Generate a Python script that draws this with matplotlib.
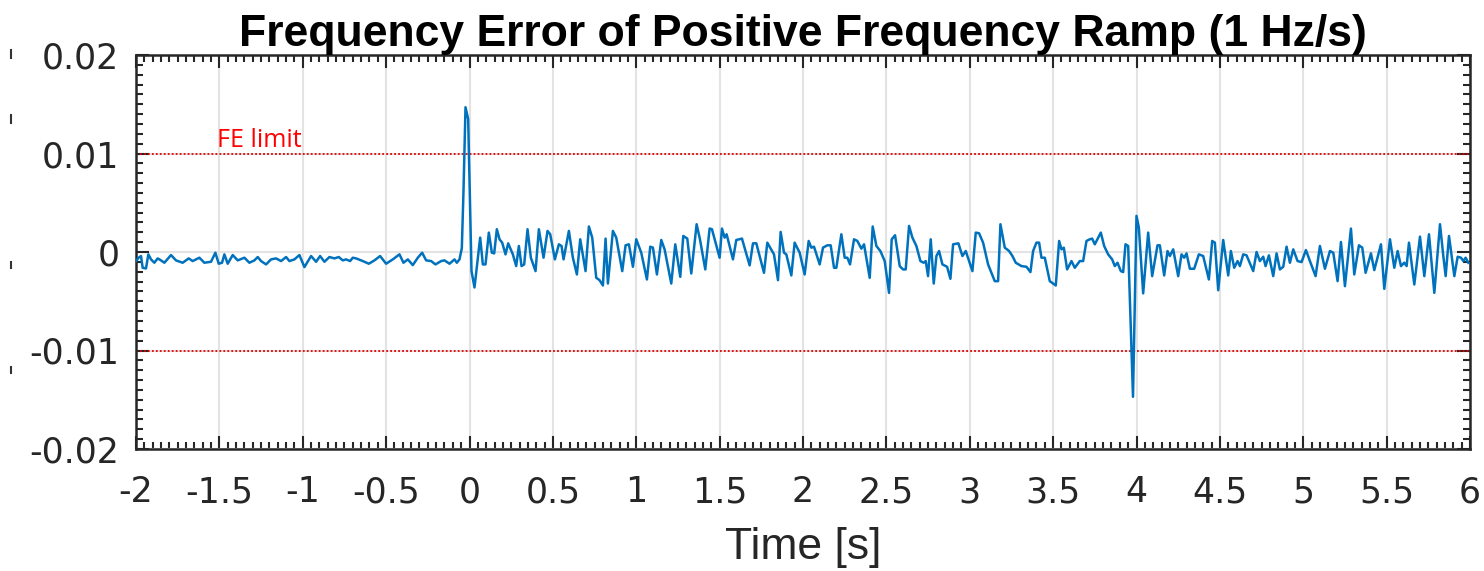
import matplotlib
matplotlib.use('Agg')
import matplotlib.pyplot as plt
from matplotlib.lines import Line2D
from matplotlib.ticker import MultipleLocator

# Frequency error samples, (time [s], FE [mHz])
# before the ramp starts
seg_pre = [
    (-2.0, -0.92), (-1.984, -0.58), (-1.97, -0.41), (-1.96, -1.6), (-1.94, -1.67),
    (-1.926, -0.24), (-1.91, -0.75), (-1.89, -1.09), (-1.87, -0.65), (-1.85, -0.85),
    (-1.83, -1.09), (-1.79, -0.31), (-1.76, -0.85), (-1.72, -1.09), (-1.684, -0.65),
    (-1.66, -0.92), (-1.62, -0.58), (-1.59, -1.09), (-1.55, -0.99), (-1.524, -0.07),
    (-1.504, -1.19), (-1.484, -1.09), (-1.47, -0.24), (-1.45, -1.19), (-1.42, -0.31),
    (-1.39, -0.85), (-1.35, -0.58), (-1.32, -1.09), (-1.29, -0.85), (-1.27, -0.51),
    (-1.25, -0.92), (-1.22, -1.26), (-1.19, -0.75), (-1.16, -0.65), (-1.13, -0.92),
    (-1.1, -0.51), (-1.08, -0.92), (-1.05, -0.75), (-1.02, -0.31), (-0.99, -1.53),
    (-0.95, -0.41), (-0.92, -0.99), (-0.896, -0.41), (-0.87, -0.99), (-0.84, -0.51),
    (-0.81, -0.65), (-0.784, -0.51), (-0.76, -0.85), (-0.74, -0.75), (-0.716, -0.92),
    (-0.7, -0.58), (-0.68, -0.65), (-0.64, -0.92), (-0.604, -1.19), (-0.57, -0.85),
    (-0.536, -0.41), (-0.5, -1.19), (-0.46, -0.75), (-0.42, -0.24), (-0.396, -1.09),
    (-0.37, -0.75), (-0.34, -1.33), (-0.31, -0.58), (-0.284, -0.07), (-0.26, -0.85),
    (-0.23, -0.92), (-0.204, -1.26), (-0.17, -0.92), (-0.15, -0.85), (-0.12, -1.19),
    (-0.09, -0.75), (-0.076, -1.09), (-0.06, -0.75), (-0.046, 0.4), (-0.036, 6.2),
    (-0.024, 14.7), (-0.008, 13.5), (0.012, -1.94), (0.03, -3.6),
]

# 0 s .. 2.4 s
seg_a = [
    (0.064, 1.46), (0.08, -1.26), (0.096, -1.26), (0.116, 1.97), (0.134, -0.07),
    (0.148, -0.14), (0.164, 2.31), (0.18, 1.29), (0.196, 0.95), (0.216, -0.24),
    (0.232, 0.88), (0.26, -0.24), (0.28, -1.43), (0.296, 0.61), (0.312, -1.43),
    (0.328, -1.26), (0.348, 2.31), (0.368, -0.58), (0.396, -1.94), (0.416, 2.31),
    (0.444, -0.58), (0.468, 2.14), (0.484, 1.8), (0.512, -0.75), (0.536, 0.78),
    (0.552, 0.61), (0.564, -0.75), (0.596, 2.14), (0.62, -0.58), (0.644, -2.28),
    (0.664, 1.29), (0.696, -1.94), (0.716, 2.59), (0.736, 1.46), (0.76, -2.62),
    (0.78, -2.86), (0.8, -3.4), (0.816, 1.36), (0.83, -3.2), (0.86, 2.14),
    (0.88, 1.46), (0.916, -1.94), (0.936, 0.68), (0.956, 0.78), (0.98, -1.5),
    (1.0, 1.29), (1.03, -0.07), (1.064, -2.79), (1.084, 0.54), (1.1, 0.44),
    (1.124, -2.28), (1.15, 1.22), (1.17, 0.27), (1.21, -3.2), (1.234, 0.78),
    (1.264, -2.52), (1.282, 1.63), (1.306, 1.36), (1.33, -2.18), (1.362, 2.82),
    (1.382, 1.29), (1.414, -1.77), (1.44, 2.38), (1.454, 2.31), (1.5, -0.58),
    (1.514, 2.38), (1.53, 1.46), (1.542, 1.8), (1.58, -0.75), (1.6, 1.22),
    (1.634, 1.36), (1.68, -1.36), (1.7, 0.88), (1.72, 0.88), (1.766, -2.11),
    (1.786, 0.95), (1.826, -0.24), (1.85, -2.86), (1.866, 2.04), (1.886, -0.07),
    (1.9, -0.24), (1.93, -2.38), (1.95, 0.95), (1.98, -0.07), (2.01, -2.28),
    (2.034, 1.12), (2.05, 0.44), (2.066, 0.54), (2.1, -1.26), (2.12, 0.44),
    (2.146, 0.68), (2.166, 0.68), (2.186, -1.6), (2.2, -1.6), (2.23, 1.8),
    (2.25, -0.58), (2.266, -0.58), (2.282, -1.26), (2.306, 1.29), (2.326, 1.12),
    (2.35, 0.34), (2.366, 0.78), (2.4, -2.62),
]

# 2.4 s .. 3.95 s
seg_b = [
    (2.418, 2.59), (2.44, 0.61), (2.464, 0.1), (2.49, -0.92), (2.516, -4.15),
    (2.532, 1.29), (2.552, 1.7), (2.58, -1.43), (2.6, -1.77), (2.616, -1.77),
    (2.636, 2.65), (2.656, 1.46), (2.68, 0.61), (2.704, -0.92), (2.724, -1.09),
    (2.736, -0.92), (2.75, -2.45), (2.766, 1.29), (2.784, -3.2), (2.8, -0.41),
    (2.816, 0.1), (2.836, -1.26), (2.864, -1.5), (2.884, -2.72), (2.9, 0.78),
    (2.932, 0.88), (2.956, -0.41), (2.976, 0.1), (3.016, -1.94), (3.036, 1.97),
    (3.056, 1.9), (3.08, 0.95), (3.11, -1.26), (3.15, -2.96), (3.17, -2.96),
    (3.184, 2.82), (3.21, 0.44), (3.236, 0.1), (3.256, -0.41), (3.276, -1.09),
    (3.31, -1.43), (3.34, -1.5), (3.364, -2.04), (3.38, 0.1), (3.4, 0.95),
    (3.416, 0.95), (3.43, -0.58), (3.45, -0.58), (3.48, -2.96), (3.516, -3.4),
    (3.536, 1.12), (3.55, 0.27), (3.564, 0.44), (3.584, -1.77), (3.61, -0.92),
    (3.63, -1.6), (3.66, -0.92), (3.68, -0.92), (3.7, 1.12), (3.72, 1.29),
    (3.734, 1.36), (3.75, 0.78), (3.786, 1.97), (3.806, 0.61), (3.83, -0.24),
    (3.854, -0.75), (3.87, -1.43), (3.886, -1.09), (3.906, -1.94), (3.92, -2.04),
    (3.934, 0.78), (3.95, 0.61),
]

# 3.95 s .. 6 s, includes the dip at 4 s
seg_c = [
    (3.979, -14.7), (4.0, 3.67), (4.014, 2.48), (4.04, -4.2), (4.07, 1.97),
    (4.094, -2.45), (4.126, 0.68), (4.14, 0.68), (4.166, -2.38), (4.186, 0.1),
    (4.2, -0.41), (4.22, 0.27), (4.25, -2.45), (4.27, -0.24), (4.286, -0.58),
    (4.3, -0.14), (4.32, -1.7), (4.346, -1.7), (4.374, -0.24), (4.4, -0.41),
    (4.434, -2.79), (4.454, 1.12), (4.47, 0.95), (4.49, -3.88), (4.52, 1.22),
    (4.55, -2.38), (4.566, 0.1), (4.586, -1.6), (4.606, -0.92), (4.62, -1.43),
    (4.64, -0.24), (4.66, -0.34), (4.7, -1.94), (4.72, 0.0), (4.74, -0.92),
    (4.76, -0.48), (4.774, -1.43), (4.794, -0.34), (4.82, -2.45), (4.84, -0.14),
    (4.86, -1.77), (4.88, -1.5), (4.9, 0.54), (4.92, -1.09), (4.94, 0.27),
    (4.966, -0.92), (4.99, -1.02), (5.016, 0.2), (5.04, -0.92), (5.074, -2.45),
    (5.1, 0.61), (5.13, -1.7), (5.16, 0.1), (5.18, -0.07), (5.206, -2.96),
    (5.226, 1.02), (5.25, -3.47), (5.286, 2.38), (5.306, -2.28), (5.334, 0.68),
    (5.354, 0.44), (5.374, -2.11), (5.406, -0.14), (5.426, -1.84), (5.466, 0.78),
    (5.486, -3.74), (5.52, 1.29), (5.546, -1.6), (5.566, 0.1), (5.586, -1.43),
    (5.606, -1.09), (5.62, -1.43), (5.634, 0.95), (5.666, -3.3), (5.7, 1.56),
    (5.726, -2.45), (5.754, 1.8), (5.786, -4.15), (5.82, 2.82), (5.84, -0.41),
    (5.854, -2.45), (5.874, 1.63), (5.906, -2.45), (5.926, -0.48), (5.946, -0.58),
    (5.96, -0.92), (5.974, -0.58), (5.99, -1.09),
]

fe_limit = 0.01
xticks = [-2, -1.5, -1, -0.5, 0, 0.5, 1, 1.5, 2, 2.5, 3, 3.5, 4, 4.5, 5, 5.5, 6]
xtick_labels = ['-2', '-1.5', '-1', '-0.5', '0', '0.5', '1', '1.5', '2', '2.5',
                '3', '3.5', '4', '4.5', '5', '5.5', '6']
yticks = [-0.02, -0.01, 0, 0.01, 0.02]
ytick_labels = ['-0.02', '-0.01', '0', '0.01', '0.02']

plt.rcParams['font.family'] = ['Liberation Sans', 'DejaVu Sans']

pts = seg_pre + seg_a + seg_b + seg_c
t = [p[0] for p in pts]
fe = [p[1] / 1000. for p in pts]  # mHz -> Hz

fig = plt.figure(figsize=(14.84, 5.71), dpi=100)
ax = fig.add_axes([136 / 1484, 1 - 449 / 571, (1470 - 136) / 1484, (449 - 55) / 571])

ax.plot(t, fe, color='#0072BD', lw=1.8, zorder=3)
for lim in (fe_limit, -fe_limit):
    ax.axhline(lim, color='#E00000', ls=(0, (1, 1.2)), lw=1.3, zorder=2)
ax.text(-1.515, 0.0107, 'FE limit', color='red', fontsize=18, family=['Open Sans', 'DejaVu Sans'])

ax.set_xlim(-2, 6)
ax.set_ylim(-0.02, 0.02)
ax.set_xticks(xticks)
ax.set_xticklabels(xtick_labels, family='DejaVu Sans')
ax.set_yticks(yticks)
ax.set_yticklabels(ytick_labels, family='DejaVu Sans')
ax.xaxis.set_minor_locator(MultipleLocator(0.05))
ax.yaxis.set_minor_locator(MultipleLocator(0.001))
ax.tick_params(which='both', direction='in', top=True, right=True, width=1.5, color='#262626')
ax.tick_params(which='major', length=9.5, labelsize=25, labelcolor='#262626')
ax.tick_params(which='minor', length=5)
ax.tick_params(axis='x', pad=19)
ax.tick_params(axis='y', pad=12)
ax.grid(True, which='major', color='#E3E3E3', lw=1.5, zorder=0)
ax.set_axisbelow(True)
for s in ax.spines.values():
    s.set_linewidth(1.8)
    s.set_color('#262626')

ax.set_title('Frequency Error of Positive Frequency Ramp (1 Hz/s)', fontsize=32,
             fontweight='bold', pad=3)
ax.set_xlabel('Time [s]', fontsize=32, color='#262626', labelpad=13)

# small stray marks at the left edge of the original screenshot
for y0, y1 in [(50, 58), (115, 123), (262, 268), (367, 373)]:
    fig.add_artist(Line2D([11 / 1484, 11 / 1484], [1 - y0 / 571, 1 - y1 / 571],
                          color='#333333', lw=1.5))

fig.savefig('out.png', dpi=100)
